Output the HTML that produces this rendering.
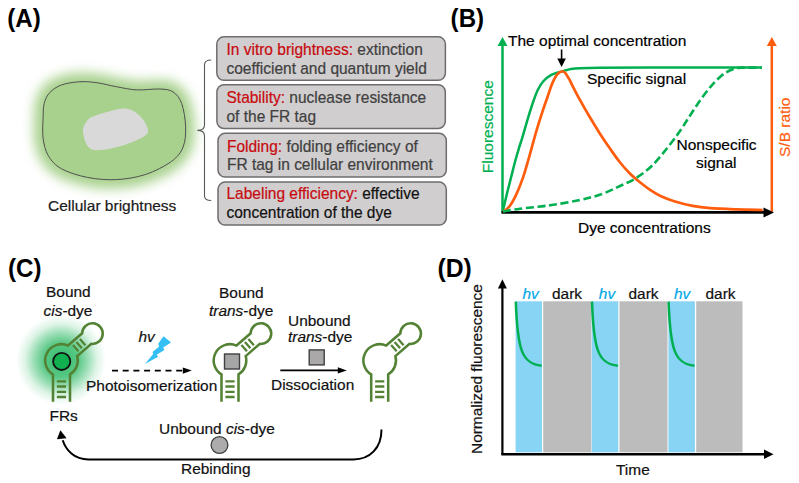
<!DOCTYPE html>
<html><head><meta charset="utf-8">
<style>
html,body{margin:0;padding:0;background:#fff;}
svg{display:block;}
text{font-family:"Liberation Sans",sans-serif;stroke-width:0.2px;}
</style></head>
<body>
<svg width="799" height="483" viewBox="0 0 799 483">
<defs>
  <filter id="blurCell" x="-30%" y="-30%" width="160%" height="160%"><feGaussianBlur stdDeviation="6"/></filter>
  <radialGradient id="glow" cx="0.5" cy="0.5" r="0.5">
    <stop offset="0" stop-color="#10b050" stop-opacity="0.85"/>
    <stop offset="0.38" stop-color="#10b050" stop-opacity="0.7"/>
    <stop offset="0.6" stop-color="#10b050" stop-opacity="0.42"/>
    <stop offset="0.8" stop-color="#10b050" stop-opacity="0.14"/>
    <stop offset="1" stop-color="#10b050" stop-opacity="0"/>
  </radialGradient>
  <marker id="ahBlack" viewBox="0 0 10 10" refX="9" refY="5" markerWidth="9" markerHeight="9" markerUnits="userSpaceOnUse" orient="auto">
    <path d="M0,0 L10,5 L0,10 z" fill="#000"/>
  </marker>
  <g id="rna">
    <path d="M-8.50,41.3 L-8.50,13.91 A16.3,16.3 0 0 1 6.52,-14.94 L20.65,-27.22 A10.3,10.3 0 1 1 29.83,-16.66 L15.70,-4.37 A16.3,16.3 0 0 1 8.50,13.91 L8.50,41.3" fill="none" stroke="#548235" stroke-width="2.55"/>
    <path d="M-4.6,20.8 L4.6,20.8 M-4.6,26.0 L4.6,26.0 M-4.6,31.3 L4.6,31.3 M-4.6,36.5 L4.6,36.5 M11.43,-15.50 L16.94,-9.16 M14.90,-18.52 L20.42,-12.18 M18.38,-21.54 L23.89,-15.20" stroke="#548235" stroke-width="2.3"/>
  </g>
</defs>

<!-- ===== Panel A ===== -->
<text transform="translate(7.2,27.2) scale(0.965,1)" font-size="25" font-weight="bold" fill="#000">(A)</text>
<g>
  <path filter="url(#blurCell)" fill="#a9d18e" stroke="#a9d18e" stroke-width="18" d="M43.10,118.00 C43.28,112.20 43.08,107.75 44.20,103.50 C45.32,99.25 46.93,95.58 49.80,92.50 C52.67,89.42 56.57,86.78 61.40,85.00 C66.23,83.22 73.00,82.20 78.80,81.80 C84.60,81.40 89.93,81.78 96.20,82.60 C102.47,83.42 109.65,85.48 116.40,86.70 C123.15,87.92 129.45,89.52 136.70,89.90 C143.95,90.28 153.85,88.67 159.90,89.00 C165.95,89.33 169.37,89.48 173.00,91.90 C176.63,94.32 179.60,97.70 181.70,103.50 C183.80,109.30 185.37,119.45 185.60,126.70 C185.83,133.95 185.45,141.22 183.10,147.00 C180.75,152.78 177.78,156.82 171.50,161.40 C165.22,165.98 154.58,171.47 145.40,174.50 C136.22,177.53 126.05,179.12 116.40,179.60 C106.75,180.08 96.67,179.22 87.50,177.40 C78.33,175.58 67.93,172.32 61.40,168.70 C54.87,165.08 51.35,160.77 48.30,155.70 C45.25,150.63 43.97,144.58 43.10,138.30 C42.23,132.02 42.92,123.80 43.10,118.00Z"/>
  <path fill="#a9d18e" stroke="#505050" stroke-width="1" d="M43.10,118.00 C43.28,112.20 43.08,107.75 44.20,103.50 C45.32,99.25 46.93,95.58 49.80,92.50 C52.67,89.42 56.57,86.78 61.40,85.00 C66.23,83.22 73.00,82.20 78.80,81.80 C84.60,81.40 89.93,81.78 96.20,82.60 C102.47,83.42 109.65,85.48 116.40,86.70 C123.15,87.92 129.45,89.52 136.70,89.90 C143.95,90.28 153.85,88.67 159.90,89.00 C165.95,89.33 169.37,89.48 173.00,91.90 C176.63,94.32 179.60,97.70 181.70,103.50 C183.80,109.30 185.37,119.45 185.60,126.70 C185.83,133.95 185.45,141.22 183.10,147.00 C180.75,152.78 177.78,156.82 171.50,161.40 C165.22,165.98 154.58,171.47 145.40,174.50 C136.22,177.53 126.05,179.12 116.40,179.60 C106.75,180.08 96.67,179.22 87.50,177.40 C78.33,175.58 67.93,172.32 61.40,168.70 C54.87,165.08 51.35,160.77 48.30,155.70 C45.25,150.63 43.97,144.58 43.10,138.30 C42.23,132.02 42.92,123.80 43.10,118.00Z"/>
  <path fill="#d9d9d9" d="M82.90,131.20 C82.58,127.22 84.32,124.95 86.00,122.50 C87.68,120.05 88.00,118.63 93.00,116.50 C98.00,114.37 109.95,110.92 116.00,109.70 C122.05,108.48 125.43,108.27 129.30,109.20 C133.17,110.13 136.33,112.58 139.20,115.30 C142.07,118.02 145.33,122.25 146.50,125.50 C147.67,128.75 149.62,131.65 146.20,134.80 C142.78,137.95 133.78,141.85 126.00,144.40 C118.22,146.95 105.85,149.77 99.50,150.10 C93.15,150.43 90.67,149.55 87.90,146.40 C85.13,143.25 83.22,135.18 82.90,131.20Z"/>
</g>
<text transform="translate(48,210.5) scale(1,1.0)" font-size="15.5" fill="#1a1a1a" stroke="#1a1a1a">Cellular brightness</text>

<!-- brace -->
<path d="M211.2,60 C207,60 204.5,61.5 204.5,65 L204.5,125 C204.5,128.5 202,130.4 197.4,130.4 C202,130.4 204.5,132.3 204.5,136 L204.5,196 C204.5,199 207,200.5 211.2,200.5" fill="none" stroke="#595959" stroke-width="1.1"/>

<!-- boxes -->
<g fill="#d0cecf" stroke="#6e6c6c" stroke-width="1.5">
  <rect x="216.8" y="36.8" width="228.6" height="43.5" rx="7.2"/>
  <rect x="216.9" y="84.7" width="228.4" height="43.8" rx="7.2"/>
  <rect x="218" y="133.3" width="228.3" height="43.8" rx="7.2"/>
  <rect x="218" y="182.1" width="228.3" height="43" rx="7.2"/>
</g>
<g font-size="15.5">
  <text transform="translate(226.5,55) scale(1,1.03)" fill="#404040" stroke="#404040"><tspan fill="#c80a0f" stroke="#c80a0f">In vitro brightness:</tspan> extinction</text>
  <text transform="translate(226.5,73.8) scale(1,1.03)" fill="#404040" stroke="#404040">coefficient and quantum yield</text>
  <text transform="translate(226.5,102.6) scale(1,1.03)" fill="#404040" stroke="#404040"><tspan fill="#c80a0f" stroke="#c80a0f">Stability:</tspan> nuclease resistance</text>
  <text transform="translate(226.5,121.8) scale(1,1.03)" fill="#404040" stroke="#404040">of the FR tag</text>
  <text transform="translate(227,152) scale(1,1.03)" fill="#404040" stroke="#404040"><tspan fill="#c80a0f" stroke="#c80a0f">Folding:</tspan> folding efficiency of</text>
  <text transform="translate(227,170.3) scale(1,1.03)" fill="#404040" stroke="#404040">FR tag in cellular environment</text>
  <text transform="translate(226.5,199) scale(1,1.03)" fill="#111" stroke="#111"><tspan fill="#c80a0f" stroke="#c80a0f">Labeling efficiency:</tspan> effective</text>
  <text transform="translate(226.5,217.6) scale(1,1.03)" fill="#111" stroke="#111">concentration of the dye</text>
</g>

<!-- ===== Panel B ===== -->
<text transform="translate(450.6,27.2) scale(0.965,1)" font-size="25" font-weight="bold" fill="#000">(B)</text>
<!-- axes -->
<line x1="502.5" y1="212.5" x2="502.5" y2="45" stroke="#00b050" stroke-width="2.5"/>
<path d="M497.5,46 L502.5,37 L507.5,46 Z" fill="#00b050"/>
<line x1="771.8" y1="212.5" x2="771.8" y2="45" stroke="#ff5d0d" stroke-width="2.5"/>
<path d="M766.8,46 L771.8,37 L776.8,46 Z" fill="#ff5d0d"/>
<line x1="501.5" y1="212.4" x2="765" y2="212.4" stroke="#000" stroke-width="2.8"/>
<path d="M763.5,207.4 L774,212.4 L763.5,217.4 Z" fill="#000"/>
<!-- curves -->
<path d="M502.80,211.20 C503.52,208.17 505.68,198.80 507.10,193.00 C508.52,187.20 509.90,181.90 511.30,176.40 C512.70,170.90 514.22,164.73 515.50,160.00 C516.78,155.27 517.85,151.78 519.00,148.00 C520.15,144.22 520.80,142.62 522.40,137.30 C524.00,131.98 526.70,122.32 528.60,116.10 C530.50,109.88 532.23,104.43 533.80,100.00 C535.37,95.57 536.45,92.58 538.00,89.50 C539.55,86.42 540.88,83.93 543.10,81.50 C545.32,79.07 548.27,76.55 551.30,74.90 C554.33,73.25 557.98,72.57 561.30,71.60 C564.62,70.63 568.08,69.65 571.20,69.10 C574.32,68.55 575.20,68.52 580.00,68.30 C584.80,68.08 588.33,67.92 600.00,67.80 C611.67,67.68 623.00,67.63 650.00,67.60 C677.00,67.57 743.33,67.60 762.00,67.60" fill="none" stroke="#00b050" stroke-width="2.5"/>
<path d="M503.00,211.80 C504.10,210.87 507.40,209.07 509.60,206.20 C511.80,203.33 514.00,199.28 516.20,194.60 C518.40,189.92 520.78,183.87 522.80,178.10 C524.82,172.33 526.10,167.63 528.30,160.00 C530.50,152.37 533.68,140.23 536.00,132.30 C538.32,124.37 540.28,118.28 542.20,112.40 C544.12,106.52 545.87,101.73 547.50,97.00 C549.13,92.27 550.58,87.50 552.00,84.00 C553.42,80.50 554.75,77.95 556.00,76.00 C557.25,74.05 558.45,73.05 559.50,72.30 C560.55,71.55 561.35,71.42 562.30,71.50 C563.25,71.58 563.98,71.40 565.20,72.80 C566.42,74.20 568.18,77.33 569.60,79.90 C571.02,82.47 571.98,84.87 573.70,88.20 C575.42,91.53 577.20,95.05 579.90,99.90 C582.60,104.75 586.58,111.72 589.90,117.30 C593.22,122.88 596.48,128.23 599.80,133.40 C603.12,138.57 606.48,143.53 609.80,148.30 C613.12,153.07 616.40,157.85 619.70,162.00 C623.00,166.15 626.22,169.82 629.60,173.20 C632.98,176.58 636.52,179.47 640.00,182.30 C643.48,185.13 647.00,187.87 650.50,190.20 C654.00,192.53 656.92,194.42 661.00,196.30 C665.08,198.18 669.73,199.90 675.00,201.50 C680.27,203.10 686.75,204.78 692.60,205.90 C698.45,207.02 702.80,207.62 710.10,208.20 C717.40,208.78 727.63,209.10 736.40,209.40 C745.17,209.70 758.32,209.90 762.70,210.00" fill="none" stroke="#ff5d0d" stroke-width="2.7"/>
<path d="M503.00,211.50 C505.83,211.03 512.17,209.73 520.00,208.70 C527.83,207.67 540.00,206.75 550.00,205.30 C560.00,203.85 571.33,201.88 580.00,200.00 C588.67,198.12 595.33,196.33 602.00,194.00 C608.67,191.67 614.33,188.65 620.00,186.00 C625.67,183.35 630.67,181.48 636.00,178.10 C641.33,174.72 646.83,170.67 652.00,165.70 C657.17,160.73 662.33,154.08 667.00,148.30 C671.67,142.52 676.10,136.55 680.00,131.00 C683.90,125.45 686.95,120.25 690.40,115.00 C693.85,109.75 697.25,104.32 700.70,99.50 C704.15,94.68 707.65,90.07 711.10,86.10 C714.55,82.13 718.30,78.30 721.40,75.70 C724.50,73.10 726.93,71.80 729.70,70.50 C732.47,69.20 735.28,68.38 738.00,67.90 C740.72,67.42 742.00,67.65 746.00,67.60 C750.00,67.55 759.33,67.60 762.00,67.60" fill="none" stroke="#00b050" stroke-width="2.6" stroke-dasharray="8,3.6"/>
<!-- arrow to peak -->
<line x1="561.6" y1="49.5" x2="561.6" y2="60" stroke="#000" stroke-width="1.6"/>
<path d="M557.3,58.5 L561.6,67 L565.9,58.5 Z" fill="#000"/>
<g font-size="15.5" fill="#000" stroke="#000">
  <text transform="translate(508,45.5) scale(1,1.0)">The optimal concentration</text>
  <text transform="translate(587,83.7) scale(1,1.0)">Specific signal</text>
  <text transform="translate(676.5,150.4) scale(1,1.0)">Nonspecific</text>
  <text transform="translate(696,168.4) scale(1,1.0)">signal</text>
  <text transform="translate(578,233.2) scale(1,1.0)">Dye concentrations</text>
</g>
<text transform="translate(492.6,173.2) rotate(-90) scale(1,1.0)" font-size="15.5" fill="#00b050" stroke="#00b050">Fluorescence</text>
<text transform="translate(789.6,157) rotate(-90) scale(1,1.0)" font-size="15.5" fill="#ff5d0d" stroke="#ff5d0d">S/B ratio</text>

<!-- ===== Panel C ===== -->
<text transform="translate(8,276.8) scale(0.965,1)" font-size="25" font-weight="bold" fill="#000">(C)</text>
<circle cx="61" cy="360" r="45" fill="url(#glow)"/>
<g font-size="15.45" fill="#111" stroke="#111">
  <text transform="translate(46,297.2) scale(1,1.0)">Bound</text>
  <text transform="translate(43.5,315.8) scale(1,1.0)"><tspan font-style="italic">cis</tspan>-dye</text>
  <text transform="translate(49.5,420.6) scale(1,1.0)">FRs</text>
  <text transform="translate(219,297.5) scale(1,1.0)">Bound</text>
  <text transform="translate(209,315.8) scale(1,1.0)"><tspan font-style="italic">trans</tspan>-dye</text>
  <text transform="translate(288,326) scale(1,1.0)">Unbound</text>
  <text transform="translate(288,341.9) scale(1,1.0)"><tspan font-style="italic">trans</tspan>-dye</text>
  <text transform="translate(86,391) scale(1,1.0)">Photoisomerization</text>
  <text transform="translate(271,389.8) scale(1,1.0)">Dissociation</text>
  <text transform="translate(159,433.5) scale(1,1.0)">Unbound <tspan font-style="italic">cis</tspan>-dye</text>
  <text transform="translate(181,474.1) scale(1,1.0)">Rebinding</text>
  <text transform="translate(138.5,341.9) scale(1,1.0)" font-style="italic">hv</text>
</g>
<use href="#rna" x="61.5" y="360.5"/>
<circle cx="61.7" cy="361.4" r="8.6" fill="#10b050" stroke="#111" stroke-width="1.8"/>
<use href="#rna" x="230" y="360.5"/>
<rect x="224.5" y="354" width="15" height="15" fill="#a6a6a6" stroke="#404040" stroke-width="1.4"/>
<use href="#rna" x="379.7" y="360.5"/>
<rect x="309.2" y="349.9" width="15" height="15" fill="#aaa8a8" stroke="#404040" stroke-width="1.4"/>
<!-- lightning -->
<path d="M163.57,336.21 L171.02,342.59 L163.16,347.39 L164.4,349.88 L156.7,354.68 L158.19,356.67 L144.94,363.95 L153.22,354.02 L152.56,351.95 L159.18,346.56 L158.19,343.66 Z" fill="#33bff3"/>
<!-- dashed arrow -->
<line x1="112" y1="370.6" x2="184" y2="370.6" stroke="#000" stroke-width="1.9" stroke-dasharray="6,4.7"/>
<path d="M182.8,367.4 L191.8,370.6 L182.8,373.8 Z" fill="#000"/>
<!-- solid arrow -->
<line x1="280.3" y1="370.4" x2="339" y2="370.4" stroke="#000" stroke-width="1.7"/>
<path d="M337.8,367.3 L346.8,370.4 L337.8,373.5 Z" fill="#000"/>
<!-- unbound cis circle -->
<circle cx="219.5" cy="445" r="8.4" fill="#adabab" stroke="#404040" stroke-width="1.3"/>
<!-- rebinding arc -->
<path d="M381.5,429.4 C381.5,448 370,459.4 353.4,459.4 L88.4,459.4 C74,459.4 66,450 62.7,440.2" fill="none" stroke="#000" stroke-width="2"/>
<path d="M56.9,439.2 L60.4,430.2 L66.6,438.2 Z" fill="#000"/>

<!-- ===== Panel D ===== -->
<text transform="translate(437.5,277.2) scale(0.99,1)" font-size="25" font-weight="bold" fill="#000">(D)</text>
<g>
  <rect x="515.6" y="301.3" width="26.4" height="151" fill="#87d4f5"/>
  <rect x="543.2" y="301.3" width="48.2" height="151" fill="#bdbcbc"/>
  <rect x="591.8" y="301.3" width="26.5" height="151" fill="#87d4f5"/>
  <rect x="619.5" y="301.3" width="48" height="151" fill="#bdbcbc"/>
  <rect x="668.4" y="301.3" width="26.5" height="151" fill="#87d4f5"/>
  <rect x="696.2" y="301.3" width="46.3" height="151" fill="#bdbcbc"/>
</g>
<g fill="none" stroke="#00b050" stroke-width="2.5">
  <path d="M515.8,301.6 C517.5,350 522,364 541.7,365.7"/>
  <path d="M592,301.6 C593.7,350 598.2,364 617.9,365.7"/>
  <path d="M668.6,301.6 C670.3,350 674.8,364 694.5,365.7"/>
</g>
<line x1="502.4" y1="454.5" x2="502.4" y2="287" stroke="#000" stroke-width="2.2"/>
<path d="M497.9,288.5 L502.4,279.2 L506.9,288.5 Z" fill="#000"/>
<line x1="501.3" y1="454.3" x2="765" y2="454.3" stroke="#000" stroke-width="2.6"/>
<path d="M764,449.5 L773.5,454.3 L764,459.1 Z" fill="#000"/>
<g font-size="15.45">
  <text transform="translate(522.5,298.8) scale(1,1.0)" font-style="italic" fill="#00a8e8" stroke="#00a8e8">hv</text>
  <text transform="translate(598.8,298.8) scale(1,1.0)" font-style="italic" fill="#00a8e8" stroke="#00a8e8">hv</text>
  <text transform="translate(674,298.8) scale(1,1.0)" font-style="italic" fill="#00a8e8" stroke="#00a8e8">hv</text>
  <text transform="translate(552,298.8) scale(1,1.0)" fill="#111" stroke="#111">dark</text>
  <text transform="translate(628.5,298.8) scale(1,1.0)" fill="#111" stroke="#111">dark</text>
  <text transform="translate(705.5,298.8) scale(1,1.0)" fill="#111" stroke="#111">dark</text>
  <text transform="translate(616,475) scale(1,1.0)" fill="#111" stroke="#111">Time</text>
</g>
<text transform="translate(481.8,454) rotate(-90) scale(1,1.0)" font-size="15.45" fill="#111" stroke="#111">Normalized fluorescence</text>
</svg>
</body></html>
